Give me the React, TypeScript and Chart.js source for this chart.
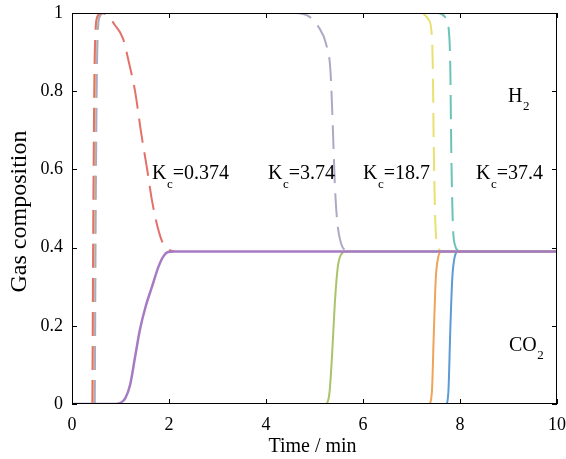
import React, { useEffect, useRef } from "react";
import { Chart, registerables } from "chart.js";

Chart.register(...registerables);

// Time axis (min) and composition axis ticks
const xTicks = [0, 2, 4, 6, 8, 10];
const yTicks = [0, 0.2, 0.4, 0.6, 0.8, 1];

// H2 outlet composition (dashed), one curve per Kc
const h2Kc0374: [number, number][] = [
  [0.42, 0], [0.44, 0.5], [0.47, 0.9], [0.52, 0.99], [0.6, 1.0], [0.72, 0.995],
  [0.88, 0.97], [1.05, 0.935], [1.18, 0.87], [1.3, 0.8], [1.43, 0.69], [1.55, 0.6],
  [1.65, 0.52], [1.76, 0.455], [1.86, 0.415], [1.97, 0.397], [2.1, 0.39],
];
const h2Kc374: [number, number][] = [
  [0.47, 0], [0.49, 0.5], [0.52, 0.9], [0.57, 0.99], [0.65, 1.0], [4.6, 1.0],
  [4.9, 0.99], [5.08, 0.965], [5.24, 0.92], [5.33, 0.85], [5.38, 0.7], [5.42, 0.56],
  [5.47, 0.465], [5.55, 0.41], [5.65, 0.39],
];
const h2Kc187: [number, number][] = [
  [0.45, 0], [0.47, 0.5], [0.5, 0.9], [0.55, 0.99], [0.63, 1.0], [7.2, 1.0],
  [7.34, 0.985], [7.41, 0.955], [7.44, 0.86], [7.46, 0.65], [7.49, 0.47],
  [7.54, 0.405], [7.62, 0.39],
];
const h2Kc374b: [number, number][] = [
  [0.45, 0], [0.47, 0.5], [0.5, 0.9], [0.55, 0.99], [0.63, 1.0], [7.55, 1.0],
  [7.69, 0.99], [7.77, 0.955], [7.8, 0.86], [7.82, 0.65], [7.85, 0.47],
  [7.9, 0.405], [7.98, 0.39],
];

// CO2 outlet composition (solid), one curve per Kc
const co2Kc0374: [number, number][] = [
  [0, 0], [0.9, 0], [1.0, 0.003], [1.1, 0.015], [1.2, 0.05], [1.3, 0.12], [1.4, 0.19],
  [1.52, 0.25], [1.65, 0.3], [1.78, 0.35], [1.88, 0.377], [1.98, 0.389], [2.1, 0.39], [10, 0.39],
];
const co2Kc374: [number, number][] = [
  [0, 0], [5.22, 0], [5.3, 0.02], [5.36, 0.12], [5.42, 0.26], [5.48, 0.35],
  [5.55, 0.383], [5.65, 0.39], [10, 0.39],
];
const co2Kc187: [number, number][] = [
  [0, 0], [7.36, 0], [7.42, 0.03], [7.46, 0.18], [7.5, 0.32], [7.55, 0.375],
  [7.62, 0.39], [10, 0.39],
];
const co2Kc374b: [number, number][] = [
  [0, 0], [7.71, 0], [7.76, 0.03], [7.8, 0.19], [7.84, 0.32], [7.89, 0.376],
  [7.96, 0.39], [10, 0.39],
];

const kcLabels = ["0.374", "3.74", "18.7", "37.4"];
const kcLabelX = [1.65, 4.04, 6.0, 8.33];
const kcLabelY = 0.588;

const SERIF = "'Liberation Serif', 'DejaVu Serif', serif";

const toPts = (arr: [number, number][]) => arr.map(([x, y]) => ({ x, y }));

// Draws the boxed frame, inward tick marks and the in-plot text
const framePlugin = {
  id: "frame",
  afterDatasetsDraw(chart: any) {
    const { ctx, chartArea: a, scales } = chart;
    const xs = scales.x;
    const ys = scales.y;
    ctx.save();
    ctx.strokeStyle = "#000";
    ctx.lineWidth = 1;
    ctx.strokeRect(a.left + 0.5, a.top + 0.5, a.right - a.left - 1, a.bottom - a.top - 1);
    const tl = 5;
    ctx.beginPath();
    for (const v of xTicks) {
      const px = Math.round(xs.getPixelForValue(v)) + 0.5;
      ctx.moveTo(px, a.bottom);
      ctx.lineTo(px, a.bottom - tl);
      ctx.moveTo(px, a.top);
      ctx.lineTo(px, a.top + tl);
    }
    for (const v of yTicks) {
      const py = Math.round(ys.getPixelForValue(v)) + 0.5;
      ctx.moveTo(a.left, py);
      ctx.lineTo(a.left + tl, py);
      ctx.moveTo(a.right, py);
      ctx.lineTo(a.right - tl, py);
    }
    ctx.stroke();

    const sub = (x: number, y: number, main: string, s: string, rest: string) => {
      ctx.font = `20px ${SERIF}`;
      ctx.textBaseline = "middle";
      ctx.textAlign = "left";
      ctx.fillStyle = "#000";
      ctx.fillText(main, x, y);
      let cx = x + ctx.measureText(main).width;
      ctx.font = `13px ${SERIF}`;
      ctx.fillText(s, cx + 0.5, y + 10);
      cx += ctx.measureText(s).width + 0.5;
      ctx.font = `20px ${SERIF}`;
      ctx.fillText(rest, cx, y);
    };
    kcLabels.forEach((lab, i) => {
      sub(xs.getPixelForValue(kcLabelX[i]), ys.getPixelForValue(kcLabelY), "K", "c", "=" + lab);
    });
    sub(xs.getPixelForValue(8.99), ys.getPixelForValue(0.785), "H", "2", "");
    sub(xs.getPixelForValue(9.01), ys.getPixelForValue(0.15), "CO", "2", "");

    // axis titles
    ctx.fillStyle = "#000";
    ctx.textAlign = "center";
    ctx.textBaseline = "middle";
    ctx.font = `20px ${SERIF}`;
    ctx.fillText("Time / min", (a.left + a.right) / 2 - 2, 447);
    ctx.translate(20, (a.top + a.bottom) / 2 + 3);
    ctx.rotate(-Math.PI / 2);
    ctx.font = `24px ${SERIF}`;
    ctx.fillText("Gas composition", 0, 0);
    ctx.restore();
  },
};

export default function App() {
  const ref = useRef<HTMLCanvasElement>(null);

  useEffect(() => {
    const canvas = ref.current;
    if (!canvas) return;
    const dashed = (data: [number, number][], color: string, order: number) => ({
      data: toPts(data),
      borderColor: color,
      borderWidth: 2,
      borderDash: [24, 10],
      pointRadius: 0,
      fill: false,
      cubicInterpolationMode: "monotone" as const,
      order,
    });
    const solid = (data: [number, number][], color: string, order: number, w = 2) => ({
      data: toPts(data),
      borderColor: color,
      borderWidth: w,
      pointRadius: 0,
      fill: false,
      cubicInterpolationMode: "monotone" as const,
      order,
    });
    const chart = new Chart(canvas, {
      type: "line",
      data: {
        datasets: [
          solid(co2Kc0374, "#a77bc4", 0, 2.5),
          solid(co2Kc374, "#a9c46a", 1),
          solid(co2Kc187, "#efa45a", 2),
          solid(co2Kc374b, "#5e9ad6", 3),
          dashed(h2Kc0374, "#e4706a", 4),
          dashed(h2Kc374, "#abaac4", 5),
          dashed(h2Kc187, "#e8e070", 6),
          dashed(h2Kc374b, "#6cc4b8", 7),
        ],
      },
      plugins: [framePlugin],
      options: {
        animation: false,
        responsive: false,
        maintainAspectRatio: false,
        layout: { padding: { left: 0, right: 9, top: 13, bottom: 0 } },
        plugins: { legend: { display: false }, tooltip: { enabled: false } },
        scales: {
          x: {
            type: "linear",
            min: 0,
            max: 10,
            afterBuildTicks: (s: any) => {
              s.ticks = xTicks.map((v) => ({ value: v }));
            },
            afterFit: (s: any) => {
              s.height = 55;
              s.paddingLeft = 0;
              s.paddingRight = 0;
            },
            grid: { display: false, drawTicks: false },
            border: { display: false },
            ticks: {
              color: "#000",
              padding: 10,
              maxRotation: 0,
              font: { family: SERIF, size: 18 },
            },
          },
          y: {
            type: "linear",
            min: 0,
            max: 1,
            afterBuildTicks: (s: any) => {
              s.ticks = yTicks.map((v) => ({ value: v }));
            },
            afterFit: (s: any) => {
              s.width = 72;
              s.paddingTop = 0;
              s.paddingBottom = 0;
            },
            grid: { display: false, drawTicks: false },
            border: { display: false },
            ticks: {
              color: "#000",
              padding: 9,
              font: { family: SERIF, size: 18 },
              callback: (v: any) => String(v),
            },
          },
        },
      },
    });
    return () => chart.destroy();
  }, []);

  return (
    <div style={{ position: "fixed", left: 0, top: 0, width: 566, height: 459, background: "#fff" }}>
      <canvas ref={ref} width={566} height={459} style={{ width: 566, height: 459 }} />
    </div>
  );
}
